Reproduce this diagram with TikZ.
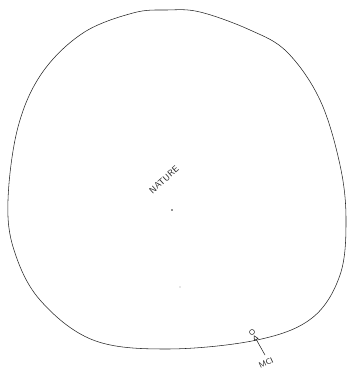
\documentclass[tikz,border=0pt]{standalone}
\usetikzlibrary{arrows.meta}
\begin{document}
\begin{tikzpicture}[x=1pt,y=-1pt,
  ink/.style={draw=black!85, line width=0.55pt},
  hand/.style={font=\sffamily, inner sep=0pt, text=black!85}]
\useasboundingbox (0,0) rectangle (348,374);
\draw[ink] plot[smooth cycle, tension=0.6] coordinates {
 (167,10) (200,12) (250,30) (287,52) (320,100) (340,165) (346,220)
 (340,275) (312,318) (257,340) (167,349) (93,340) (40,300)
 (14,250) (8,200) (18,127) (42,73) (83,33) (133,13)};
\node[hand, font=\sffamily\small, rotate=42] (nature) at (164,180) {NATURE};
\fill[black!85] (172,210) circle (0.9);
\fill[black!40] (180,287) circle (0.6);
\node[draw=black!85, circle, line width=0.5pt, inner sep=0pt, minimum size=5pt] (mci) at (252,332) {};
\node[hand, font=\sffamily\footnotesize, rotate=25] (mcilabel) at (266,363) {MCI};
\coordinate (tail) at (265,355);
\draw[ink, -{Triangle[open, length=5pt, width=5pt]}, shorten >=1pt] (tail) -- (mci);
\end{tikzpicture}
\end{document}
